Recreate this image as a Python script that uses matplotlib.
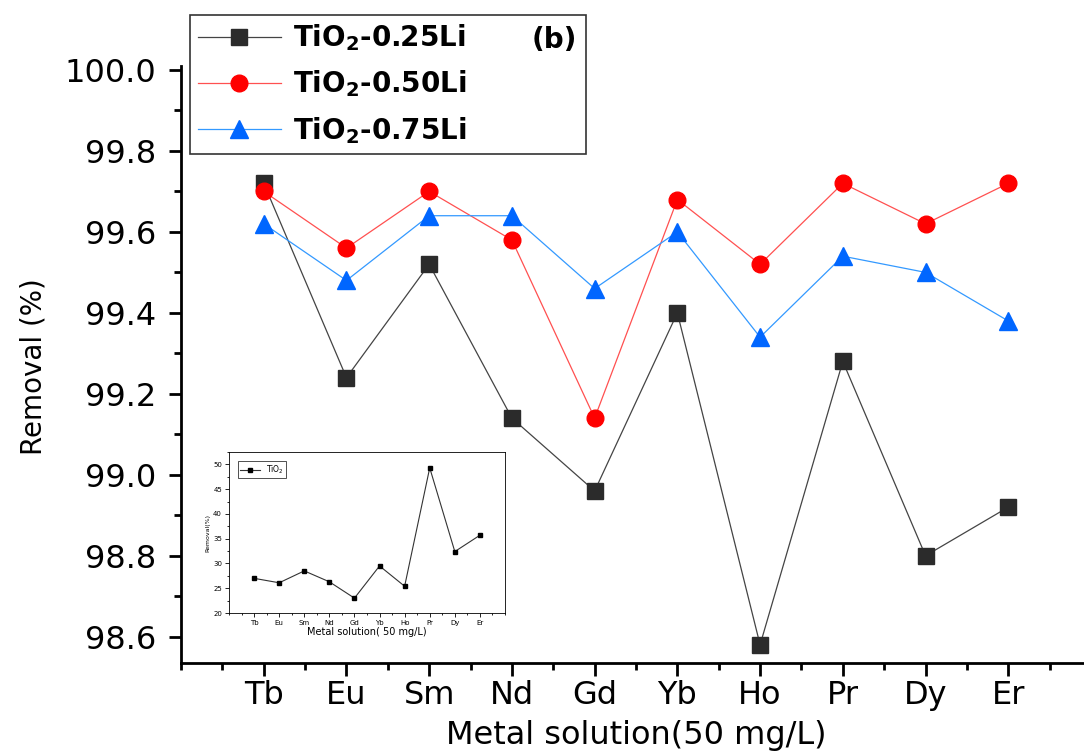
import matplotlib
matplotlib.use("Agg")
import matplotlib.pyplot as plt
from matplotlib.ticker import MultipleLocator, FormatStrFormatter
from matplotlib.patches import Rectangle

plt.rcParams['font.family'] = ['DejaVu Sans']
plt.rcParams['mathtext.fontset'] = 'dejavusans'

metals = ["Tb", "Eu", "Sm", "Nd", "Gd", "Yb", "Ho", "Pr", "Dy", "Er"]
li025 = [99.72, 99.24, 99.52, 99.14, 98.96, 99.40, 98.58, 99.28, 98.80, 98.92]
li050 = [99.70, 99.56, 99.70, 99.58, 99.14, 99.68, 99.52, 99.72, 99.62, 99.72]
li075 = [99.62, 99.48, 99.64, 99.64, 99.46, 99.60, 99.34, 99.54, 99.50, 99.38]
tio2 = [27.0, 26.1, 28.5, 26.3, 23.0, 29.5, 25.4, 49.3, 32.4, 35.7]

W, H = 1084, 756
fig = plt.figure(figsize=(W / 100, H / 100), dpi=100)

def rect(x0, y0, x1, y1):
    return [x0 / W, 1 - y1 / H, (x1 - x0) / W, (y1 - y0) / H]

ax = fig.add_axes(rect(181, 70, 1091, 663))
x = list(range(1, len(metals) + 1))
ax.plot(x, li025, '-', color='#444444', lw=0.9, marker='s', ms=11,
        mfc='#2b2b2b', mec='#2b2b2b', label='TiO$_\\mathbf{2}$-0.25Li')
ax.plot(x, li050, '-', color='#ff5050', lw=0.9, marker='o', ms=12,
        mfc='#ff0000', mec='#ff0000', label='TiO$_\\mathbf{2}$-0.50Li')
ax.plot(x, li075, '-', color='#3399ff', lw=0.9, marker='^', ms=13,
        mfc='#0066ff', mec='#0066ff', label='TiO$_\\mathbf{2}$-0.75Li')

ax.set_xlim(0, 11)
ax.set_ylim(98.535, 100.0)
ax.set_xticks(x)
ax.set_xticklabels(metals)
ax.xaxis.set_minor_locator(MultipleLocator(0.5))
ax.yaxis.set_major_locator(MultipleLocator(0.2))
ax.yaxis.set_minor_locator(MultipleLocator(0.1))
ax.yaxis.set_major_formatter(FormatStrFormatter('%.1f'))
for s in ['top', 'right']:
    ax.spines[s].set_visible(False)
for s in ['left', 'bottom']:
    ax.spines[s].set_linewidth(2)
ax.spines['left'].set_bounds(98.535, 100.01)
ax.tick_params(axis='both', which='major', direction='out', length=9, width=2,
               labelsize=23)
ax.tick_params(axis='y', which='major', pad=9)
ax.tick_params(axis='x', which='major', pad=3)
ax.tick_params(axis='both', which='minor', direction='out', length=5, width=2)
ax.set_xlabel('Metal solution(50 mg/L)', fontsize=23, labelpad=7)
ax.set_ylabel('Removal (%)', fontsize=20, labelpad=12)

# legend with a frame spanning the "(b)" label
fig.add_artist(Rectangle((190 / W, 1 - 154 / H), (586 - 190) / W, (154 - 15) / H,
                         transform=fig.transFigure, fill=False,
                         edgecolor='#333333', lw=1.2))
leg = ax.legend(loc='upper left', bbox_to_anchor=(192 / W, 1 - 17 / H),
                bbox_transform=fig.transFigure, frameon=False,
                prop={'weight': 'bold', 'size': 20}, handlelength=3.0,
                borderpad=0.2, labelspacing=0.55, handletextpad=0.45,
                borderaxespad=0)
fig.text(532 / W, 1 - 40 / H, '(b)', fontsize=20, fontweight='bold',
         ha='left', va='center')

# inset
ins = fig.add_axes(rect(229, 452, 505, 613))
ins.plot(x, tio2, '-', color='#333333', lw=0.8, marker='s', ms=3.5,
         mfc='black', mec='black', label='TiO$_2$')
ins.set_xlim(0, 11)
ins.set_ylim(20, 52.5)
ins.set_xticks(x)
ins.set_xticklabels(metals)
ins.xaxis.set_minor_locator(MultipleLocator(0.5))
ins.yaxis.set_major_locator(MultipleLocator(5))
ins.yaxis.set_minor_locator(MultipleLocator(2.5))
ins.tick_params(axis='both', which='major', direction='out', length=3,
                width=0.6, labelsize=5, pad=2)
ins.tick_params(axis='both', which='minor', direction='out', length=1.5, width=0.6)
for s in ins.spines.values():
    s.set_linewidth(0.6)
ins.set_xlabel('Metal solution( 50 mg/L)', fontsize=7, labelpad=1)
ins.set_ylabel('Removal(%)', fontsize=4.5, labelpad=2)
il = ins.legend(loc='upper left', frameon=True, fancybox=False,
                prop={'size': 5.5}, handlelength=2.5, borderpad=0.3,
                borderaxespad=1.2)
il.get_frame().set_edgecolor('black')
il.get_frame().set_linewidth(0.6)

fig.savefig('out.png', dpi=100)
